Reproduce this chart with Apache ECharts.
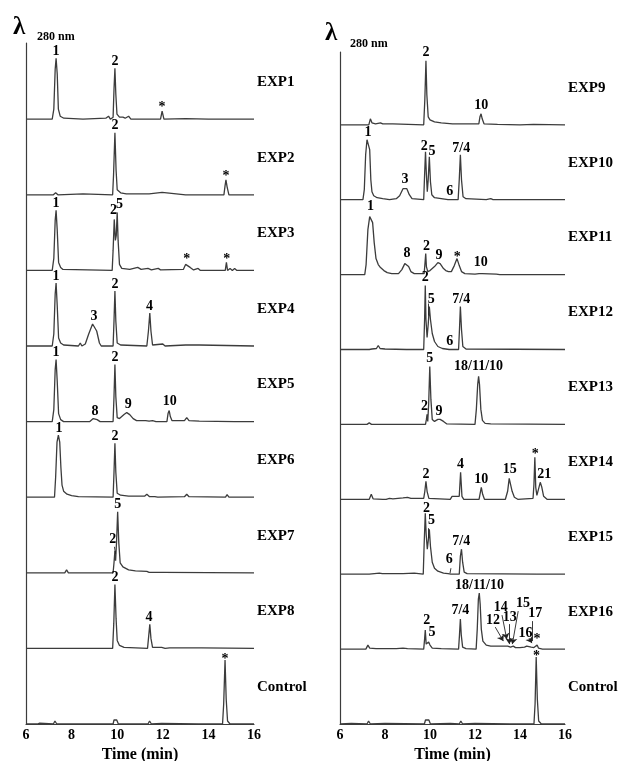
<!DOCTYPE html>
<html><head><meta charset="utf-8">
<script src="https://cdn.jsdelivr.net/npm/echarts@6/dist/echarts.min.js"></script>
<style>html,body{margin:0;padding:0;background:#fff}#c{width:618px;height:761px}</style>
</head><body><div id="c"></div>
<script>
// ---------- data (time in min, signal in arbitrary units) ----------
const timeTicks = [6, 8, 10, 12, 14, 16];
const leftNames = ['EXP1','EXP2','EXP3','EXP4','EXP5','EXP6','EXP7','EXP8','Control'];
const rightNames = ['EXP9','EXP10','EXP11','EXP12','EXP13','EXP14','EXP15','EXP16','Control'];

const exp1 = [[6,0],[7.15,0],[7.22,10],[7.28,50],[7.32,61],[7.37,45],[7.42,10],[7.5,3],[7.58,3],[7.66,1],[8.5,0],[9.5,1],[9.62,3],[9.7,0],[9.82,2],[9.86,30],[9.9,51],[9.94,25],[9.99,5],[10.1,2],[10.25,2],[10.35,1],[10.5,3],[10.6,0],[11.9,0],[11.97,8],[12.05,0],[13,0.5],[14,0],[16,0]];
const exp2 = [[6,0],[7.2,0],[7.3,2],[7.4,0],[8.5,1],[9.8,0],[9.84,20],[9.9,62],[9.95,25],[10.0,5],[10.15,2],[10.4,1],[11.4,1],[11.97,2.5],[12.05,0.5],[13,0],[14.68,0],[14.73,9],[14.77,15],[14.82,8],[14.9,0],[16,0]];
const exp3 = [[6,0],[7.15,0],[7.22,12],[7.28,50],[7.32,60],[7.37,40],[7.43,8],[7.52,3],[7.62,1],[9.78,0],[9.82,20],[9.87,51],[9.92,30],[9.96,35],[10.0,58],[10.04,30],[10.1,6],[10.2,2],[10.55,1],[10.9,3],[11.05,1],[11.35,2],[11.5,0.5],[11.8,2],[11.9,0.5],[12.9,1],[13.0,6],[13.08,8],[13.2,3],[13.35,0.5],[13.55,2],[13.65,0],[14.74,0],[14.79,8],[14.84,0],[14.95,2],[15.05,0],[15.15,2],[15.25,0],[16,0]];
const exp4 = [[6,0],[7.15,0],[7.22,12],[7.28,52],[7.32,63],[7.37,40],[7.43,8],[7.52,3],[7.65,1],[8.3,0],[8.38,3],[8.45,0],[8.6,2],[8.75,12],[8.92,22],[9.0,23],[9.1,15],[9.22,3],[9.3,0],[9.82,0],[9.86,25],[9.9,55],[9.94,25],[10.0,3],[10.15,1],[11.3,0],[11.37,15],[11.43,33],[11.48,15],[11.55,1],[12.0,2],[12.1,0],[13.0,1],[13.6,1],[16,0]];
const exp5 = [[6,0],[7.15,0],[7.22,12],[7.28,52],[7.32,62],[7.37,40],[7.43,8],[7.52,2],[7.65,0],[8.8,0],[8.95,3],[9.02,4],[9.12,2],[9.25,0],[9.82,0],[9.86,25],[9.9,57],[9.94,25],[10.0,4],[10.1,3],[10.3,7],[10.42,9],[10.55,7],[10.7,3],[10.85,1],[11.25,1],[11.32,3],[11.4,0.5],[11.55,1],[11.63,2],[11.7,0],[12.18,0],[12.23,8],[12.28,11],[12.33,5],[12.4,1],[12.95,1],[13.05,4],[13.15,1],[13.6,0.5],[15.15,0],[15.22,2],[15.3,0],[16,0]];
const exp6 = [[6,0],[7.25,0],[7.3,20],[7.36,55],[7.42,62],[7.48,55],[7.53,30],[7.58,12],[7.65,6],[7.8,3],[8.0,1.5],[8.3,0.5],[9.82,0],[9.86,25],[9.9,54],[9.94,25],[10.0,4],[10.15,2],[10.5,1],[11.2,1],[11.3,3],[11.42,0.5],[11.65,0.5],[11.7,1.5],[11.78,0],[12.95,0.5],[13.05,3],[13.15,0.5],[14.75,0],[14.82,2.5],[14.9,0],[16,0]];
const exp7 = [[6,0],[7.7,0],[7.78,3],[7.86,0],[9.82,0],[9.86,10],[9.9,22],[9.93,12],[9.97,30],[10.02,61],[10.07,30],[10.13,10],[10.25,6],[10.5,3],[10.8,2],[11.3,1.5],[11.4,0.5],[12,0.5],[16,0]];
const exp8 = [[6,0],[7.5,0],[7.57,1],[7.65,0],[7.85,0],[7.92,2],[8.0,0],[9.8,0],[9.85,25],[9.9,64],[9.95,30],[10.0,8],[10.1,3],[10.3,1],[11.33,0],[11.38,12],[11.43,24],[11.48,10],[11.55,1],[11.95,1],[12.02,2.5],[12.1,0],[12.3,0.5],[13.7,0.5],[16,0]];
const ctrlL = [[6,0],[6.5,0],[6.6,0.8],[7.2,0],[7.27,3],[7.35,0],[9.82,0],[9.86,4],[9.92,2],[9.98,4],[10.05,0],[10.85,0],[10.9,1],[11.35,0],[11.42,3],[11.5,0],[11.95,0.5],[13.55,0],[13.62,2],[13.7,0],[14.62,0],[14.67,20],[14.73,64],[14.78,25],[14.84,3],[14.95,0],[16,0]];

const exp9 = [[6,0],[7.28,0],[7.35,6],[7.42,2],[7.5,3],[7.58,1],[7.8,2],[7.9,1],[8.2,1],[8.27,3],[8.35,1],[9.72,0],[9.77,25],[9.82,64],[9.86,30],[9.92,8],[10.0,5],[10.2,3],[10.5,2],[11.0,1],[11.8,1],[11.88,3],[11.95,1],[12.17,1],[12.22,8],[12.27,11],[12.32,6],[12.4,1],[13.0,0.5],[14.0,0],[14.6,0.5],[16,0]];
const exp10 = [[6,0],[7.02,0],[7.08,10],[7.14,45],[7.2,60],[7.26,62],[7.32,50],[7.37,20],[7.42,8],[7.5,4],[7.65,2],[7.9,1],[8.2,0],[8.5,1],[8.65,4],[8.8,11],[8.88,13],[8.97,11],[9.08,5],[9.2,1],[9.72,0],[9.76,25],[9.8,48],[9.84,25],[9.88,8],[9.92,20],[9.97,43],[10.02,18],[10.08,5],[10.2,2],[10.5,1],[10.8,0],[10.87,2],[10.95,0],[11.25,0],[11.3,20],[11.35,45],[11.4,20],[11.47,3],[11.6,1],[12.5,0],[12.7,1],[12.8,0],[16,0]];
const exp11 = [[6,0],[7.1,0],[7.16,10],[7.24,45],[7.32,58],[7.38,60],[7.45,52],[7.52,32],[7.6,16],[7.7,10],[7.8,7],[7.95,4],[8.1,2],[8.3,1],[8.6,1],[8.75,5],[8.88,11],[8.95,12],[9.05,8],[9.15,3],[9.3,1],[9.74,1],[9.78,12],[9.81,21],[9.84,8],[9.9,3],[10.0,4],[10.2,8],[10.35,12],[10.45,11],[10.6,6],[10.7,4],[10.82,3],[10.95,3],[11.08,9],[11.2,16],[11.3,9],[11.4,3],[11.55,1],[12.0,0.5],[12.18,1],[12.25,3],[12.32,1],[12.95,0.5],[13.02,2],[13.1,0],[14.7,0],[14.77,1],[14.85,0],[16,0]];
const exp12 = [[6,0],[7.3,0],[7.35,2],[7.42,0.5],[7.62,1],[7.7,4],[7.78,1],[8.0,0.5],[8.95,0],[9.0,2],[9.05,0],[9.72,0],[9.76,30],[9.79,64],[9.82,30],[9.87,12],[9.92,25],[9.97,43],[10.02,30],[10.1,16],[10.2,8],[10.35,3],[10.55,1],[10.85,0],[10.9,1.5],[10.95,0],[11.27,0],[11.31,20],[11.35,43],[11.4,20],[11.46,3],[11.6,0.5],[16,0]];
const exp13 = [[6,0],[7.2,0],[7.3,1.5],[7.4,0],[7.85,0],[7.92,2],[8.0,0],[9.8,0],[9.84,5],[9.87,10],[9.9,3],[9.94,20],[9.99,58],[10.04,25],[10.1,5],[10.2,3],[10.35,5],[10.45,5],[10.6,3],[10.75,0.5],[12.0,0],[12.06,15],[12.12,40],[12.16,48],[12.2,40],[12.26,15],[12.33,4],[12.45,1],[12.7,0.5],[16,0]];
const exp14 = [[6,0],[6.5,0],[7.3,0],[7.39,5],[7.47,0.5],[7.9,0],[7.98,2],[8.05,0],[8.2,1],[8.28,2],[8.35,0.5],[8.8,1.5],[9.0,2],[9.15,1],[9.6,1],[9.67,2],[9.72,1],[9.77,8],[9.82,18],[9.87,8],[9.95,1],[10.9,0],[10.98,3],[11.05,1],[11.3,3],[11.36,27],[11.42,3],[11.5,0],[12.18,0],[12.23,6],[12.28,12],[12.34,5],[12.42,0],[13.35,0],[13.45,8],[13.52,21],[13.58,20],[13.65,8],[13.75,2],[13.9,0],[14.58,1],[14.62,15],[14.66,42],[14.7,12],[14.75,4],[14.82,10],[14.9,17],[14.97,12],[15.05,3],[15.2,0],[16,0]];
const exp15 = [[6,0],[7.3,0],[7.75,1],[7.8,2],[7.88,0.5],[8.8,0.5],[9.3,1],[9.7,0],[9.74,30],[9.79,61],[9.83,40],[9.88,25],[9.93,35],[9.97,45],[10.02,28],[10.1,12],[10.2,6],[10.35,3],[10.6,1],[10.8,0.5],[10.87,2],[10.93,0],[11.3,0],[11.35,18],[11.4,25],[11.45,12],[11.52,2],[11.65,0.5],[14.75,0],[14.82,2],[14.9,0],[16,0]];
const exp16 = [[6,0],[7.15,0],[7.24,4],[7.32,1],[7.6,0.5],[8.5,0.5],[8.8,1],[9.0,0.5],[9.72,0],[9.76,10],[9.79,19],[9.83,5],[9.88,3],[9.94,7],[10.0,4],[10.1,1],[10.5,0.5],[11.27,0],[11.31,14],[11.35,30],[11.39,14],[11.45,2],[11.6,0.5],[12.05,0],[12.1,20],[12.15,50],[12.19,56],[12.23,45],[12.28,20],[12.35,8],[12.5,4],[12.7,3],[13.0,3],[13.2,3],[13.3,3],[13.38,5],[13.45,3],[13.5,4],[13.58,2],[13.7,3],[13.8,1.5],[14.0,1.5],[14.2,2],[14.3,3],[14.38,1.5],[14.5,2],[14.56,3],[14.62,1.5],[14.7,2],[14.76,4],[14.82,1],[15.0,0],[16,0]];
const ctrlR = [[6,0],[6.5,0.5],[7.2,0],[7.27,3],[7.35,0],[8.0,0.5],[9.75,0],[9.8,4],[9.87,2],[9.95,4],[10.02,0],[10.9,0.5],[11.3,0],[11.37,3],[11.45,0],[12.0,0.5],[13.55,0],[13.62,2],[13.7,0],[14.62,0],[14.67,20],[14.72,67],[14.77,25],[14.83,3],[14.95,0],[16,0]];

// peak labels: [time, height, text]
const lab1 = [[7.32,62,'1'],[9.9,52,'2'],[11.97,5.5,'*']];
const lab2 = [[9.9,63,'2'],[14.77,12.5,'*']];
const lab3 = [[7.32,61,'1'],[9.84,54,'2'],[10.1,60,'5'],[13.05,5,'*'],[14.8,5,'*']];
const lab4 = [[7.32,64,'1'],[8.98,24,'3'],[9.9,56,'2'],[11.42,34,'4']];
const lab5 = [[7.32,63,'1'],[9.9,58,'2'],[9.03,4,'8'],[10.48,11,'9'],[12.3,14,'10']];
const lab6 = [[7.45,63,'1'],[9.9,55,'2']];
const lab7 = [[10.02,62,'5'],[9.8,27,'2']];
const lab8 = [[9.9,65,'2'],[11.4,25,'4']];
const labCL = [[14.73,58.5,'*']];
const lab9 = [[9.82,66,'2'],[12.28,13,'10']];
const lab10 = [[7.24,61,'1'],[8.89,14,'3'],[9.74,47,'2'],[10.09,42,'5'],[10.88,2,'6'],[11.39,45,'7/4']];
const lab11 = [[7.36,62,'1'],[8.98,15,'8'],[9.84,22,'2'],[10.4,13,'9'],[11.21,11.5,'*'],[12.25,6,'10']];
const lab12 = [[9.79,66,'2'],[10.06,44,'5'],[10.88,2,'6'],[11.39,44,'7/4']];
const lab13 = [[9.99,60,'5'],[9.76,12,'2'],[10.4,7,'9'],[12.16,52,'18/11/10']];
const lab14 = [[9.82,19,'2'],[11.36,29,'4'],[12.28,14,'10'],[13.54,24,'15'],[14.68,38.5,'*'],[15.08,19,'21']];
const lab15 = [[9.84,60,'2'],[10.07,48,'5'],[10.85,9,'6'],[11.39,27,'7/4']];
const lab16 = [[9.86,23,'2'],[10.09,11,'5'],[11.35,33,'7/4'],[12.2,58,'18/11/10'],[12.8,23,'12'],[13.14,36,'14'],[13.54,26,'13'],[14.13,40,'15'],[14.24,10,'16'],[14.68,30,'17'],[14.76,3.5,'*']];
const labCR = [[14.73,61.5,'*']];

// arrows / leader lines: [t1, h1, t2, h2, arrowHead]
const notes7 = [[9.88,26,9.93,19,0]];
const notes12 = [[9.9,46,9.92,34,0]];
const notes15 = [[9.94,46,9.94,36,0],[10.93,6,10.89,1,0]];
const notes16 = [[12.9,22,13.26,8,1],[13.2,34,13.41,10,1],[13.52,25,13.52,5,1],[13.92,38,13.66,5,1],[14.4,11,14.53,6,1],[14.56,28,14.56,8,0]];

// ---------- chart ----------
const FONT = '"Liberation Serif","Times New Roman",serif';
const LINE = '#3c3c3c';
const TXT = '#000';
const leftTraces = [exp1,exp2,exp3,exp4,exp5,exp6,exp7,exp8,ctrlL];
const rightTraces = [exp9,exp10,exp11,exp12,exp13,exp14,exp15,exp16,ctrlR];
const leftLabs = [lab1,lab2,lab3,lab4,lab5,lab6,lab7,lab8,labCL];
const rightLabs = [lab9,lab10,lab11,lab12,lab13,lab14,lab15,lab16,labCR];
const leftNotes = [null,null,null,null,null,null,notes7,null,null];
const rightNotes = [null,null,null,notes12,null,null,notes15,notes16,null];

const panels = [
  {grid:{left:26, top:43, width:228, bottom:37, outerBoundsMode:'none', containLabel:false}, ymax:681, step:75.6, names:leftNames, traces:leftTraces, labs:leftLabs, notes:leftNotes},
  {grid:{left:340, top:52, width:225, bottom:37, outerBoundsMode:'none', containLabel:false}, ymax:672, step:74.9, names:rightNames, traces:rightTraces, labs:rightLabs, notes:rightNotes}
];

const grids = [], xAxes = [], yAxes = [], series = [];
panels.forEach((p, gi) => {
  grids.push(p.grid);
  xAxes.push({
    gridIndex: gi, type:'value', min:timeTicks[0], max:timeTicks[timeTicks.length-1], interval:2,
    axisLine:{show:true, onZero:false, lineStyle:{color:LINE, width:1.2}},
    axisTick:{show:false}, splitLine:{show:false},
    axisLabel:{color:TXT, fontFamily:FONT, fontWeight:'bold', fontSize:14, margin:4},
    name:'Time (min)', nameLocation:'middle', nameGap:21,
    nameTextStyle:{color:TXT, fontFamily:FONT, fontWeight:'bold', fontSize:16}
  });
  yAxes.push({
    gridIndex: gi, type:'value', min:0, max:p.ymax,
    axisLine:{show:true, lineStyle:{color:LINE, width:1.2}},
    axisTick:{show:false}, axisLabel:{show:false}, splitLine:{show:false}
  });
  const n = p.traces.length;
  const labelData = [], nameData = [];
  p.traces.forEach((tr, i) => {
    const off = (n - 1 - i) * p.step;
    const s = {
      type:'line', xAxisIndex:gi, yAxisIndex:gi, symbol:'none', silent:true,
      data: tr.map(d => [d[0], d[1] + off]),
      lineStyle:{color:LINE, width:1.3}, animation:false, z:2
    };
    const nt = p.notes[i];
    if (nt) {
      s.markLine = {
        silent:true, animation:false, symbolSize:6,
        lineStyle:{color:'#222', type:'solid', width:0.9},
        label:{show:false},
        data: nt.map(a => [
          {coord:[a[0], a[1] + off], symbol:'none'},
          {coord:[a[2], a[3] + off], symbol: a[4] ? 'arrow' : 'none'}
        ])
      };
    }
    series.push(s);
    p.labs[i].forEach(l => labelData.push({value:[l[0], l[1] + off], label:{formatter:l[2]}}));
    nameData.push({value:[16, off + 37], label:{formatter:p.names[i]}});
  });
  series.push({
    type:'scatter', xAxisIndex:gi, yAxisIndex:gi, symbolSize:0, silent:true, clip:false, animation:false,
    itemStyle:{opacity:1},
    data: labelData,
    label:{show:true, position:'top', distance:1, offset:[0,2], color:TXT, opacity:1, fontFamily:FONT, fontWeight:'bold', fontSize:14},
    z:5
  });
  series.push({
    type:'scatter', xAxisIndex:gi, yAxisIndex:gi, symbolSize:0, silent:true, clip:false, animation:false,
    itemStyle:{opacity:1},
    data: nameData,
    label:{show:true, position:'right', distance:3, color:TXT, opacity:1, fontFamily:FONT, fontWeight:'bold', fontSize:15},
    z:5
  });
});

const chart = echarts.init(document.getElementById('c'), null, {renderer:'canvas'});
chart.setOption({
  backgroundColor:'#fff',
  animation:false,
  grid: grids, xAxis: xAxes, yAxis: yAxes, series: series,
  graphic: [
    {type:'text', left:13, top:15, style:{text:'λ', fill:TXT, font:'bold 25px ' + FONT}},
    {type:'text', left:37, top:31, style:{text:'280 nm', fill:TXT, font:'bold 12px ' + FONT}},
    {type:'text', left:325, top:21, style:{text:'λ', fill:TXT, font:'bold 25px ' + FONT}},
    {type:'text', left:350, top:38, style:{text:'280 nm', fill:TXT, font:'bold 12px ' + FONT}}
  ]
});
</script></body></html>
